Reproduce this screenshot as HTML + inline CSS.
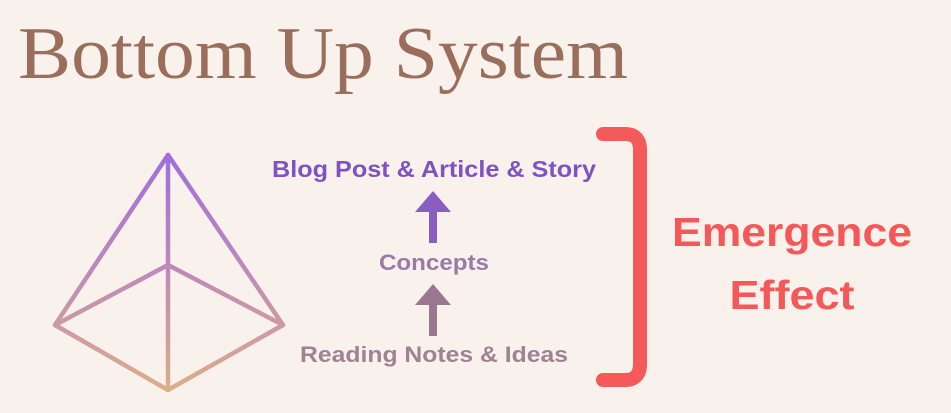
<!DOCTYPE html>
<html><head><meta charset="utf-8"><style>
html,body{margin:0;padding:0;background:#f9f1ec;}
svg{display:block}
</style></head><body>
<svg width="951" height="413" viewBox="0 0 951 413" xmlns="http://www.w3.org/2000/svg">
<defs>
<linearGradient id="g" x1="0" y1="155" x2="0" y2="392" gradientUnits="userSpaceOnUse">
<stop offset="0" stop-color="#9f6fdc"/><stop offset="0.5" stop-color="#c08ab8"/><stop offset="1" stop-color="#dcae88"/>
</linearGradient>
</defs>
<rect width="951" height="413" fill="#f9f1ec"/>
<text x="18" y="78" font-family="Liberation Serif, serif" font-size="74" fill="#9a6e5a" textLength="610" lengthAdjust="spacingAndGlyphs">Bottom Up System</text>
<g stroke="url(#g)" stroke-width="4.5" fill="none" stroke-linejoin="round" stroke-linecap="round">
<path d="M168 155 L55 325 L168 390 L283 325 Z"/>
<path d="M168 155 L168 390"/>
<path d="M55 325 L168 265 L283 325"/>
</g>
<g font-family="Liberation Sans, sans-serif" font-weight="bold" text-anchor="middle" lengthAdjust="spacingAndGlyphs">
<text x="434" y="177" font-size="23" fill="#7f52c2" textLength="324" lengthAdjust="spacingAndGlyphs">Blog Post &amp; Article &amp; Story</text>
<text x="434" y="270" font-size="22" fill="#9a7aa6" textLength="110" lengthAdjust="spacingAndGlyphs">Concepts</text>
<text x="434" y="362" font-size="22" fill="#a08294" textLength="268" lengthAdjust="spacingAndGlyphs">Reading Notes &amp; Ideas</text>
<text x="792" y="246" font-size="41" fill="#f55858" textLength="240" lengthAdjust="spacingAndGlyphs">Emergence</text>
<text x="792" y="309" font-size="41" fill="#f55858" textLength="125" lengthAdjust="spacingAndGlyphs">Effect</text>
</g>
<path d="M433 191 L415 212 L429 212 L429 243 L437 243 L437 212 L451 212 Z" fill="#8a5ec0"/>
<path d="M433 284 L415 305 L429 305 L429 336 L437 336 L437 305 L451 305 Z" fill="#9a7890"/>
<path d="M603 134 L625 134 Q640 134 640 150 L640 364 Q640 380 625 380 L603 380" stroke="#f55a5a" stroke-width="14" fill="none" stroke-linecap="round"/>
</svg>
</body></html>
